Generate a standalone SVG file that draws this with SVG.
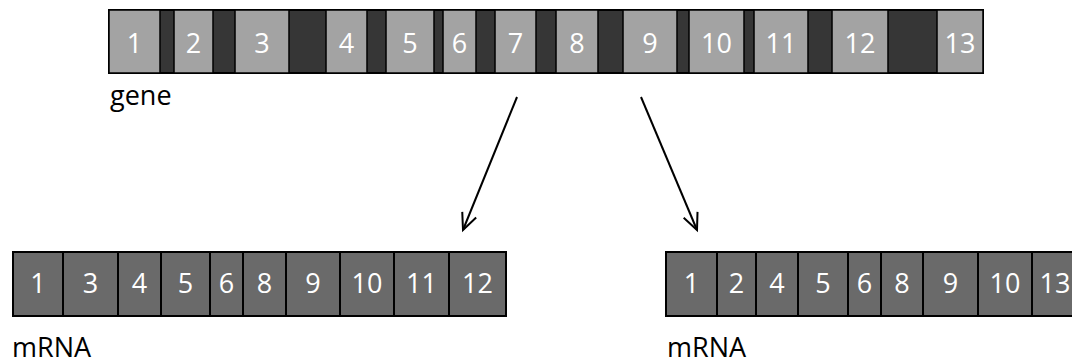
<svg xmlns="http://www.w3.org/2000/svg" width="1072" height="364" viewBox="0 0 1072 364">
<style>
.intron{fill:#363636;stroke:#000;stroke-width:2}
.exon{fill:#a3a3a3;stroke:#000;stroke-width:1.5}
.mseg{fill:#6a6a6a;stroke:#000;stroke-width:2}
.num{font-family:"Open Sans","Liberation Sans",sans-serif;font-size:27px;fill:#fff;text-anchor:middle}
.lbl{font-family:"Open Sans","Liberation Sans",sans-serif;font-size:27px;fill:#000}
.arrow{stroke:#000;stroke-width:2;fill:none}
</style>
<defs>
<marker id="ah" markerUnits="userSpaceOnUse" viewBox="-20 -10 22 20" refX="0" refY="0" markerWidth="22" markerHeight="20" orient="auto" overflow="visible">
<path d="M-16.5,-7.5 L0,0 L-16.5,7.5" fill="none" stroke="#000" stroke-width="2"/>
</marker>
</defs>
<g id="gene">
<rect class="intron" x="109" y="10" width="874" height="63"/>
<rect class="exon" x="109" y="10" width="51" height="63"/><text class="num" x="134.5" y="53">1</text>
<rect class="exon" x="174" y="10" width="39" height="63"/><text class="num" x="193.5" y="53">2</text>
<rect class="exon" x="235" y="10" width="54" height="63"/><text class="num" x="262" y="53">3</text>
<rect class="exon" x="326" y="10" width="41" height="63"/><text class="num" x="346.5" y="53">4</text>
<rect class="exon" x="386" y="10" width="48" height="63"/><text class="num" x="410" y="53">5</text>
<rect class="exon" x="443" y="10" width="33" height="63"/><text class="num" x="459.5" y="53">6</text>
<rect class="exon" x="495" y="10" width="41" height="63"/><text class="num" x="515.5" y="53">7</text>
<rect class="exon" x="556" y="10" width="42" height="63"/><text class="num" x="577" y="53">8</text>
<rect class="exon" x="623" y="10" width="54" height="63"/><text class="num" x="650" y="53">9</text>
<rect class="exon" x="689" y="10" width="55" height="63"/><text class="num" x="716.5" y="53">10</text>
<rect class="exon" x="754" y="10" width="54" height="63"/><text class="num" x="781" y="53">11</text>
<rect class="exon" x="832" y="10" width="56" height="63"/><text class="num" x="860" y="53">12</text>
<rect class="exon" x="937" y="10" width="46" height="63"/><text class="num" x="960" y="53">13</text>
<text class="lbl" x="110" y="105">gene</text>
</g>
<g id="mrna1">
<rect class="mseg" x="13" y="252" width="50" height="64"/><text class="num" x="38" y="293">1</text>
<rect class="mseg" x="63" y="252" width="55" height="64"/><text class="num" x="90.5" y="293">3</text>
<rect class="mseg" x="118" y="252" width="43" height="64"/><text class="num" x="139.5" y="293">4</text>
<rect class="mseg" x="161" y="252" width="49" height="64"/><text class="num" x="185.5" y="293">5</text>
<rect class="mseg" x="210" y="252" width="33" height="64"/><text class="num" x="226.5" y="293">6</text>
<rect class="mseg" x="243" y="252" width="43" height="64"/><text class="num" x="264.5" y="293">8</text>
<rect class="mseg" x="286" y="252" width="54" height="64"/><text class="num" x="313" y="293">9</text>
<rect class="mseg" x="340" y="252" width="54" height="64"/><text class="num" x="367" y="293">10</text>
<rect class="mseg" x="394" y="252" width="55" height="64"/><text class="num" x="421.5" y="293">11</text>
<rect class="mseg" x="449" y="252" width="57" height="64"/><text class="num" x="477.5" y="293">12</text>
<text class="lbl" x="12" y="357">mRNA</text>
</g>
<g id="mrna2">
<rect class="mseg" x="666" y="252" width="51" height="64"/><text class="num" x="691.5" y="293">1</text>
<rect class="mseg" x="717" y="252" width="39" height="64"/><text class="num" x="736.5" y="293">2</text>
<rect class="mseg" x="756" y="252" width="42" height="64"/><text class="num" x="777" y="293">4</text>
<rect class="mseg" x="798" y="252" width="50" height="64"/><text class="num" x="823" y="293">5</text>
<rect class="mseg" x="848" y="252" width="33" height="64"/><text class="num" x="864.5" y="293">6</text>
<rect class="mseg" x="881" y="252" width="42" height="64"/><text class="num" x="902" y="293">8</text>
<rect class="mseg" x="923" y="252" width="55" height="64"/><text class="num" x="950.5" y="293">9</text>
<rect class="mseg" x="978" y="252" width="54" height="64"/><text class="num" x="1005" y="293">10</text>
<rect class="mseg" x="1032" y="252" width="46" height="64"/><text class="num" x="1055" y="293">13</text>
<text class="lbl" x="667" y="357">mRNA</text>
</g>
<g id="connectors">
<line class="arrow" x1="517" y1="97" x2="463" y2="230" marker-end="url(#ah)"/>
<line class="arrow" x1="641" y1="97" x2="697" y2="230" marker-end="url(#ah)"/>
</g>
</svg>
